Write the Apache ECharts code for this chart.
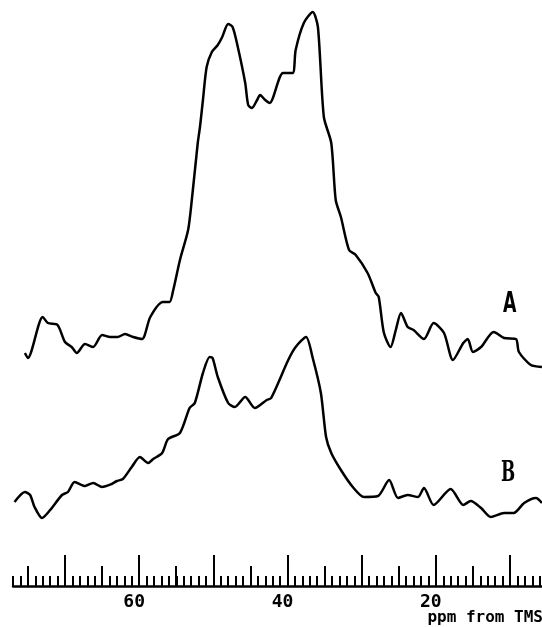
<!DOCTYPE html>
<html>
<head>
<meta charset="utf-8">
<script src="https://cdn.jsdelivr.net/npm/echarts@6/dist/echarts.min.js"></script>
<style>
html, body { margin: 0; background: #fff; }
#chart { width: 542px; height: 627px; }
</style>
</head>
<body>
<div id="chart"></div>
<script>
// chemical shift (ppm) / intensity (arbitrary units)
var shiftA = [75.4, 75.0, 73.0, 72.3, 71.0, 70.0, 69.1, 68.4, 67.3, 66.2, 65.0, 63.9, 62.9, 61.9, 60.8, 59.6,
    58.5, 56.8, 55.9, 55.4, 54.5, 53.4, 52.9, 52.1, 51.8, 51.4, 50.9, 50.2, 49.4, 48.8, 48.0, 47.4, 46.7,
    45.7, 45.3, 44.8, 44.1, 43.7, 43.0, 42.4, 40.6, 39.3, 38.9, 37.8, 36.6, 35.9, 35.1, 34.1, 33.5, 32.8,
    31.7, 30.8, 29.2, 28.1, 27.7, 27.0, 26.1, 25.4, 24.7, 23.8, 23.0, 21.6, 20.3, 18.9, 17.7, 16.3, 15.7,
    15.0, 13.9, 12.2, 10.8, 9.2, 8.8, 7.2, 5.7];
var intensityA = [233, 228, 269, 263, 261, 244, 239, 233, 242, 239, 251, 249, 249, 252, 249, 247,
    269, 284, 284, 296, 326, 356, 386, 443, 459, 486, 519, 534, 541, 549, 562, 559, 539,
    503, 481, 478, 486, 491, 486, 483, 513, 513, 536, 563, 574, 559, 469, 443, 386, 369,
    336, 331, 313, 293, 289, 253, 239, 256, 273, 259, 256, 247, 263, 253, 226, 243, 247,
    234, 239, 254, 248, 247, 234, 221, 219];

var shiftB = [76.8, 75.4, 74.7, 74.1, 73.1, 72.0, 70.4, 69.6, 68.7, 67.3, 66.2, 65.0, 63.7, 63.0, 62.2,
    61.0, 59.9, 58.8, 58.1, 56.9, 56.1, 54.5, 53.2, 52.5, 51.4, 50.5, 50.1, 49.4, 48.0, 47.1, 45.7, 44.4,
    42.8, 42.2, 39.9, 38.9, 37.5, 36.6, 35.5, 34.8, 34.1, 32.8, 31.2, 29.7, 27.8, 26.3, 25.1, 23.8, 22.4,
    21.6, 20.3, 18.0, 16.3, 15.3, 13.9, 12.6, 10.8, 9.5, 8.1, 6.5, 5.7];
var intensityB = [84, 94, 91, 79, 68, 76, 91, 94, 104, 100, 103, 99, 102, 105, 107,
    119, 129, 123, 127, 133, 147, 153, 178, 183, 213, 229, 228, 209, 183, 179, 189, 178,
    186, 188, 226, 239, 249, 228, 193, 149, 133, 116, 99, 89, 90, 106, 88, 91, 89,
    98, 81, 97, 81, 85, 78, 69, 73, 73, 83, 88, 83];

var shownLabels = [60, 40, 20];
var traceNames = ['A', 'B'];

function pairs(xs, ys) {
    return xs.map(function (x, i) { return [x, ys[i]]; });
}

var chart = echarts.init(document.getElementById('chart'));

// rulers: 10 ppm, 5 ppm and 1 ppm ticks
function ruler(gridIndex, max, interval, len, withLabels, withLine) {
    return {
        type: 'value',
        gridIndex: gridIndex,
        position: 'bottom',
        inverse: true,
        min: 0,
        max: max,
        interval: interval,
        splitLine: { show: false },
        axisLine: { show: withLine, onZero: false, lineStyle: { color: '#000', width: 2.5 } },
        axisTick: { show: true, inside: true, length: len, lineStyle: { color: '#000', width: 2 } },
        axisLabel: {
            show: withLabels,
            margin: 7,
            color: '#000',
            fontFamily: 'DejaVu Sans Mono',
            fontWeight: 'bold',
            fontSize: 18,
            padding: [0, 10, 0, 0],
            formatter: function (v) {
                return shownLabels.indexOf(v) >= 0 ? String(v) : '';
            }
        }
    };
}

var option = {
    backgroundColor: '#fff',
    animation: false,
    // the ruler runs past the right edge; the fine ruler stops at 77 ppm
    grid: [
        { left: -9.2, right: -42.2, top: 0, bottom: 41, outerBoundsMode: 'none', containLabel: false },
        { left: 13.1, right: -42.2, top: 0, bottom: 41, outerBoundsMode: 'none', containLabel: false }
    ],
    xAxis: [
        ruler(0, 80, 10, 31, true, false),
        ruler(0, 80, 5, 20, false, false),
        ruler(1, 77, 1, 10, false, true)
    ],
    yAxis: [
        { type: 'value', gridIndex: 0, min: 0, max: 586, show: false },
        { type: 'value', gridIndex: 1, min: 0, max: 586, show: false }
    ],
    series: [
        { name: traceNames[0], data: pairs(shiftA, intensityA) },
        { name: traceNames[1], data: pairs(shiftB, intensityB) }
    ].map(function (s) {
        return {
            name: s.name,
            type: 'line',
            xAxisIndex: 0,
            yAxisIndex: 0,
            data: s.data,
            smooth: 0.25,
            showSymbol: false,
            lineStyle: { color: '#000', width: 2.5 }
        };
    }),
    graphic: [
        {
            type: 'text', x: 503, y: 291, scaleX: 0.62,
            style: { text: traceNames[0], font: 'bold 28px "DejaVu Sans"', fill: '#000' }
        },
        {
            type: 'text', x: 501, y: 460, scaleX: 0.6,
            style: { text: traceNames[1], font: 'bold 28px "DejaVu Serif"', fill: '#000' }
        },
        {
            type: 'text', x: 543, y: 610,
            style: { text: 'ppm from TMS', font: 'bold 16px "DejaVu Sans Mono"', fill: '#000', align: 'right' }
        }
    ]
};

chart.setOption(option);
</script>
</body>
</html>
